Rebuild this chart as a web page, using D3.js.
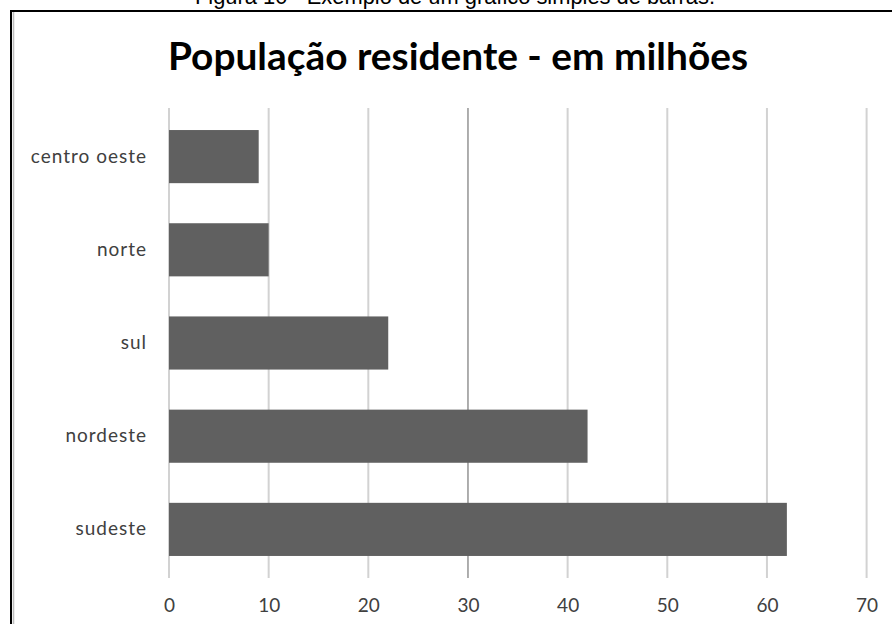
<!DOCTYPE html>
<html>
<head>
<meta charset="utf-8">
<script src="https://cdn.jsdelivr.net/npm/d3@7"></script>
<style>
  html, body { margin: 0; padding: 0; background: #fff; }
  svg { display: block; }
</style>
</head>
<body>
<svg id="chart" width="892" height="624"></svg>
<script>
// Resident population by region, in millions
const regions = ["centro oeste", "norte", "sul", "nordeste", "sudeste"];
const population = [9, 10, 22, 42, 62];
const xTicks = [0, 10, 20, 30, 40, 50, 60, 70];

const captionText = "Figura 10 - Exemplo de um gráfico simples de barras.";
const titleText = "População residente - em milhões";

const svg = d3.select("#chart");

// Figure caption above the chart frame
const caption = svg.append("text")
  .attr("x", 455)
  .attr("y", 4)
  .attr("text-anchor", "middle")
  .style("font-family", "Liberation Sans, Arial, sans-serif")
  .style("font-size", "20px")
  .attr("fill", "#000")
  .text(captionText);
const capW = caption.node().getComputedTextLength();
caption.style("font-size", (20 * 520 / capW).toFixed(2) + "px");

// Chart frame (continues past the right and bottom edges)
svg.append("rect")
  .attr("x", 11).attr("y", 11)
  .attr("width", 1000).attr("height", 1000)
  .attr("fill", "#fff")
  .attr("stroke", "#000")
  .attr("stroke-width", 2);
svg.append("line")
  .attr("x1", 13.5).attr("x2", 13.5)
  .attr("y1", 12).attr("y2", 624)
  .attr("stroke", "#bdbdbd")
  .attr("stroke-width", 1.5);

// Scales
const x = d3.scaleLinear().domain([0, 70]).range([169, 866.6]);
const y = d3.scaleBand().domain(regions).range([110, 576])
  .paddingInner(0.43).paddingOuter(0.215);

// Vertical gridlines
svg.append("g").selectAll("line")
  .data(xTicks)
  .join("line")
  .attr("x1", d => x(d)).attr("x2", d => x(d))
  .attr("y1", 108).attr("y2", 578)
  .attr("stroke", d => d === 30 ? "#9a9a9a" : "#d2d2d2")
  .attr("stroke-width", d => d === 30 ? 1.6 : 2);

// Bars
svg.append("g").selectAll("rect")
  .data(regions.map((r, i) => ({ region: r, value: population[i] })))
  .join("rect")
  .attr("x", x(0))
  .attr("y", d => y(d.region))
  .attr("width", d => x(d.value) - x(0))
  .attr("height", y.bandwidth())
  .attr("fill", "#606060");

// Category axis labels
const yAxis = svg.append("g")
  .attr("transform", "translate(169,0)")
  .call(d3.axisLeft(y).tickSize(0).tickPadding(22));
yAxis.select(".domain").remove();
yAxis.selectAll("text")
  .style("font-family", "Lato, 'Open Sans', sans-serif")
  .style("font-size", "19px")
  .style("letter-spacing", "1px")
  .attr("fill", "#404040");

// Value axis labels
const xAxis = svg.append("g")
  .attr("transform", "translate(0,592)")
  .call(d3.axisBottom(x).tickValues(xTicks).tickSize(0).tickPadding(7)
    .tickFormat(d3.format("d")));
xAxis.select(".domain").remove();
xAxis.selectAll("text")
  .style("font-family", "Lato, 'Open Sans', sans-serif")
  .style("font-size", "19px")
  .attr("fill", "#404040");

// Chart title
const title = svg.append("text")
  .attr("x", 458)
  .attr("y", 70)
  .attr("text-anchor", "middle")
  .style("font-family", "Lato, 'Open Sans', sans-serif")
  .style("font-weight", "700")
  .style("font-size", "34px")
  .attr("fill", "#000")
  .text(titleText);
const tW = title.node().getComputedTextLength();
title.style("font-size", (34 * 580 / tW).toFixed(2) + "px");
</script>
</body>
</html>
